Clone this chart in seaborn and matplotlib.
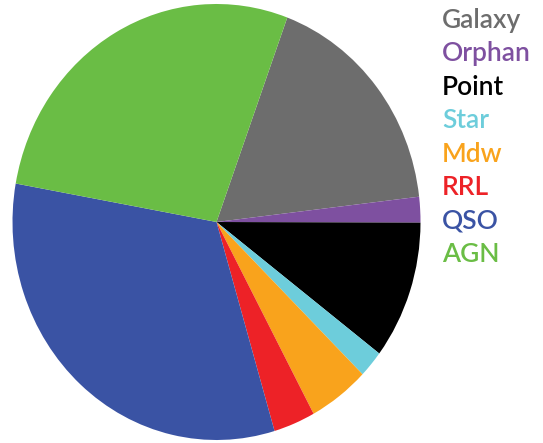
import matplotlib
matplotlib.use("Agg")
import matplotlib.pyplot as plt
import seaborn as sns

# 各类别占比 (从图中读出, 顺时针)
CATEGORIES = ["Galaxy", "Orphan", "Point", "Star", "Mdw", "RRL", "QSO", "AGN"]
SHARES = [17.5, 1.9, 10.25, 2.0, 4.8, 3.3, 32.4, 27.8]
COLORS = ["#6d6d6d", "#7e50a0", "#000000", "#6dcddb",
          "#f9a31c", "#ed2227", "#3a53a4", "#6abd45"]

sns.set_theme(style="white")
plt.rcParams["font.family"] = ["Lato", "DejaVu Sans"]

fig = plt.figure(figsize=(5.43, 4.43), dpi=100)
ax = fig.add_axes([12.5 / 543, 3 / 443, 408 / 543, 436 / 443])

wedges, _ = ax.pie(
    SHARES, colors=COLORS, startangle=69.7, counterclock=False,
    wedgeprops=dict(linewidth=0), radius=1,
)
# 图里的饼是椭圆的, 不保持等比例
ax.set_aspect("auto")
ax.set_xlim(-1, 1)
ax.set_ylim(-1, 1)
ax.axis("off")

leg = fig.legend(
    wedges, CATEGORIES, labelcolor=COLORS,
    loc="upper left", bbox_to_anchor=(442 / 543, 1 - 8 / 443),
    frameon=False, handlelength=0, handletextpad=0,
    prop=dict(size=19, weight="semibold"),
    labelspacing=0.32, borderpad=0, borderaxespad=0,
)
for h in leg.legend_handles:
    h.set_visible(False)

fig.savefig("out.png", dpi=100)
